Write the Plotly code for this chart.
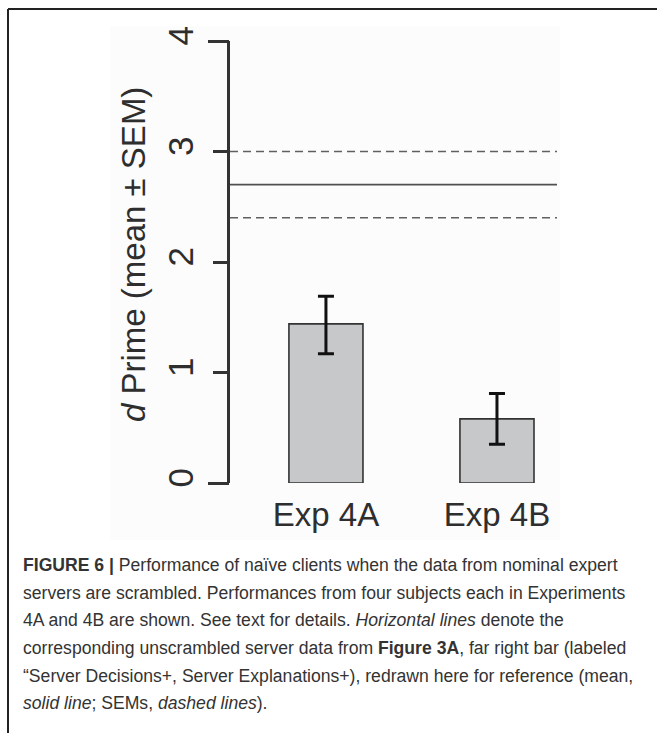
import plotly.graph_objects as go

# ---- data ----
categories = ["Exp 4A", "Exp 4B"]
means = [1.44, 0.58]
sem_plus = [0.25, 0.23]
sem_minus = [0.27, 0.23]
ref_mean = 2.70
ref_sem = 0.30
y_ticks = [0, 1, 2, 3, 4]

caption_lines = [
    "<b>FIGURE 6 |</b> Performance of naïve clients when the data from nominal expert",
    "servers are scrambled. Performances from four subjects each in Experiments",
    "4A and 4B are shown. See text for details. <i>Horizontal lines</i> denote the",
    "corresponding unscrambled server data from <b>Figure 3A</b>, far right bar (labeled",
    "“Server Decisions+, Server Explanations+), redrawn here for reference (mean,",
    "<i>solid line</i>; SEMs, <i>dashed lines</i>).",
]

W, H = 657, 733
ML, MR, MT, MB = 230, 100, 41, 250
pw, ph = W - ML - MR, H - MT - MB
x_range = [-0.561, 1.351]
y_range = [0, 4]

def px_x(p):
    return (p - ML) / pw

def px_y(p):
    return (H - MB - p) / ph

xs = list(range(len(categories)))
ink = "#2e2e2e"
font_fam = "Liberation Sans, Arial, sans-serif"

fig = go.Figure()

fig.add_trace(go.Bar(
    x=xs, y=means, width=0.433,
    marker=dict(color="#c7c8ca", line=dict(color="#333333", width=1.6)),
    error_y=dict(type="data", array=sem_plus, arrayminus=sem_minus,
                 color="#111111", thickness=3, width=8),
    showlegend=False, hoverinfo="skip",
))

fig.add_trace(go.Scatter(
    x=x_range, y=[ref_mean, ref_mean], mode="lines",
    line=dict(color="#505050", width=1.6), showlegend=False, yaxis="y2",
))
for v in (ref_mean + ref_sem, ref_mean - ref_sem):
    fig.add_trace(go.Scatter(
        x=x_range, y=[v, v], mode="lines",
        line=dict(color="#606060", width=1.6, dash="8px,5px"), showlegend=False,
    ))

annotations = [
    dict(text="<i>d</i> Prime (mean ± SEM)", textangle=-90,
         xref="paper", yref="paper", x=px_x(134), y=px_y(255),
         xanchor="center", yanchor="middle", showarrow=False,
         font=dict(size=33, color=ink, family=font_fam)),
]
line_y = [565, 593, 620, 648, 676, 703]
for t, yy in zip(caption_lines, line_y):
    annotations.append(dict(
        text=t, xref="paper", yref="paper", x=px_x(21), y=px_y(yy),
        xanchor="left", yanchor="middle", showarrow=False, align="left",
        font=dict(size=17.6, color="#333333", family=font_fam),
    ))

shapes = [
    dict(type="rect", xref="paper", yref="paper",
         x0=px_x(110), x1=px_x(560), y0=px_y(540), y1=px_y(26),
         fillcolor="#fcfcfc", line=dict(width=0), layer="below"),
    dict(type="line", xref="paper", yref="paper",
         x0=px_x(8), x1=px_x(W + 5), y0=px_y(9), y1=px_y(9),
         line=dict(color="#222222", width=2)),
    dict(type="line", xref="paper", yref="paper",
         x0=px_x(8), x1=px_x(8), y0=px_y(9), y1=px_y(H + 5),
         line=dict(color="#222222", width=2)),
]

fig.update_layout(
    width=W, height=H,
    margin=dict(l=ML, r=MR, t=MT, b=MB, pad=0),
    paper_bgcolor="white", plot_bgcolor="rgba(0,0,0,0)",
    font=dict(family=font_fam, color=ink),
    xaxis=dict(range=x_range, tickvals=xs, ticktext=categories, showline=False,
               showgrid=False, zeroline=False, ticks="",
               tickfont=dict(size=33, color=ink), ticklabelstandoff=9),
    yaxis=dict(range=y_range, tickvals=y_ticks, showline=True, linewidth=2.5,
               linecolor="#333333", ticks="outside", ticklen=14, tickwidth=2.5,
               tickcolor="#333333", showgrid=False, zeroline=False,
               tickangle=-90, tickfont=dict(size=35, color=ink),
               ticklabelstandoff=6),
    yaxis2=dict(range=y_range, overlaying="y", side="left", anchor="x",
                tickvals=[y_range[0], y_range[1]], ticks="outside", ticklen=21,
                tickwidth=2.5, tickcolor="#333333", showticklabels=False,
                showgrid=False, zeroline=False, showline=False),
    annotations=annotations, shapes=shapes,
)

fig.write_html("out.html")
